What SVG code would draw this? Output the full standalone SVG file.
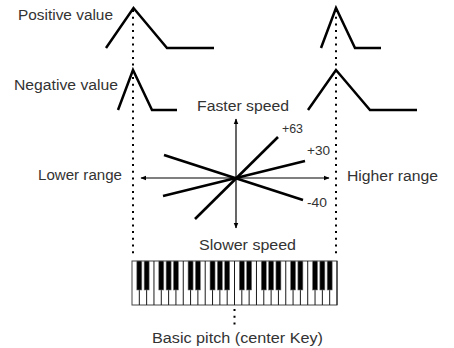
<svg xmlns="http://www.w3.org/2000/svg" width="454" height="348" viewBox="0 0 454 348">
<style>
text{font-family:"Liberation Sans",Arial,sans-serif;font-size:15.5px;fill:#333}
.sm{font-size:12.5px}
.env{fill:none;stroke:#000;stroke-width:2.5;stroke-linejoin:miter}
.ray{stroke:#000;stroke-width:2.6;stroke-linecap:butt}
.axis{stroke:#000;stroke-width:1.2;fill:none}
.dot{stroke:#000;stroke-width:2;stroke-dasharray:2 4.7;fill:none}
.wl{stroke:#1a1a1a;stroke-width:1}
.bk{fill:#000;stroke:#777;stroke-width:0.6}
</style>
<defs>
<marker id="ah" viewBox="0 0 10 10" refX="9" refY="5" markerWidth="6" markerHeight="6" orient="auto-start-reverse" markerUnits="userSpaceOnUse">
<path d="M0,1 L10,5 L0,9 Z" fill="#000"/>
</marker>
<g id="oct">
<line class="wl" x1="7.32" y1="261" x2="7.32" y2="305"/>
<line class="wl" x1="14.64" y1="261" x2="14.64" y2="305"/>
<line class="wl" x1="21.96" y1="261" x2="21.96" y2="305"/>
<line class="wl" x1="29.29" y1="261" x2="29.29" y2="305"/>
<line class="wl" x1="36.61" y1="261" x2="36.61" y2="305"/>
<line class="wl" x1="43.93" y1="261" x2="43.93" y2="305"/>
<line class="wl" x1="51.25" y1="261" x2="51.25" y2="305"/>
<rect class="bk" x="4.82" y="261" width="5" height="29"/>
<rect class="bk" x="12.14" y="261" width="5" height="29"/>
<rect class="bk" x="26.79" y="261" width="5" height="29"/>
<rect class="bk" x="34.11" y="261" width="5" height="29"/>
<rect class="bk" x="41.43" y="261" width="5" height="29"/>
</g>
</defs>
<rect width="454" height="348" fill="#fff"/>

<g id="connectors">
<line class="dot" x1="133" y1="10" x2="133" y2="258"/>
<line class="dot" x1="336" y1="10" x2="336" y2="258"/>
<line class="dot" x1="234.5" y1="309" x2="234.5" y2="326"/>
</g>

<g id="positive-left">
<text x="18" y="19.5" textLength="95" lengthAdjust="spacingAndGlyphs">Positive value</text>
<polyline class="env" points="106,48 133.5,8 167,48 214,48"/>
</g>
<g id="negative-left">
<text x="14" y="89.5" textLength="104" lengthAdjust="spacingAndGlyphs">Negative value</text>
<polyline class="env" points="118,110 133,70 152,110 177,110"/>
</g>
<g id="positive-right">
<polyline class="env" points="321,48 336,8 355,48 381,48"/>
</g>
<g id="negative-right">
<polyline class="env" points="308,110 336,70 370,110 417,110"/>
</g>

<g id="speed-chart">
<text x="197" y="110.5" textLength="92" lengthAdjust="spacingAndGlyphs">Faster speed</text>
<text x="199" y="249.5" textLength="97" lengthAdjust="spacingAndGlyphs">Slower speed</text>
<text x="38" y="180" textLength="84" lengthAdjust="spacingAndGlyphs">Lower range</text>
<text x="347" y="181" textLength="91" lengthAdjust="spacingAndGlyphs">Higher range</text>
<line class="axis" x1="236" y1="178" x2="236" y2="119" marker-end="url(#ah)"/>
<line class="axis" x1="236" y1="178" x2="236" y2="228" marker-end="url(#ah)"/>
<line class="axis" x1="236" y1="178" x2="141" y2="178" marker-end="url(#ah)"/>
<line class="axis" x1="236" y1="178" x2="329" y2="178" marker-end="url(#ah)"/>
<line class="ray" x1="195" y1="219" x2="278" y2="137"/>
<line class="ray" x1="163" y1="196" x2="305" y2="161"/>
<line class="ray" x1="164" y1="155" x2="303" y2="200"/>
<text class="sm" x="282" y="133" textLength="21" lengthAdjust="spacingAndGlyphs">+63</text>
<text class="sm" x="307" y="155" textLength="23" lengthAdjust="spacingAndGlyphs">+30</text>
<text class="sm" x="307" y="207" textLength="20" lengthAdjust="spacingAndGlyphs">-40</text>
</g>

<g id="keyboard">
<rect x="132" y="261" width="205" height="44" fill="#fff" stroke="#444" stroke-width="1"/>
<use href="#oct" x="132"/>
<use href="#oct" x="183.25"/>
<use href="#oct" x="234.5"/>
<use href="#oct" x="285.75"/>
<text x="152" y="343" textLength="171" lengthAdjust="spacingAndGlyphs">Basic pitch (center Key)</text>
</g>
</svg>
